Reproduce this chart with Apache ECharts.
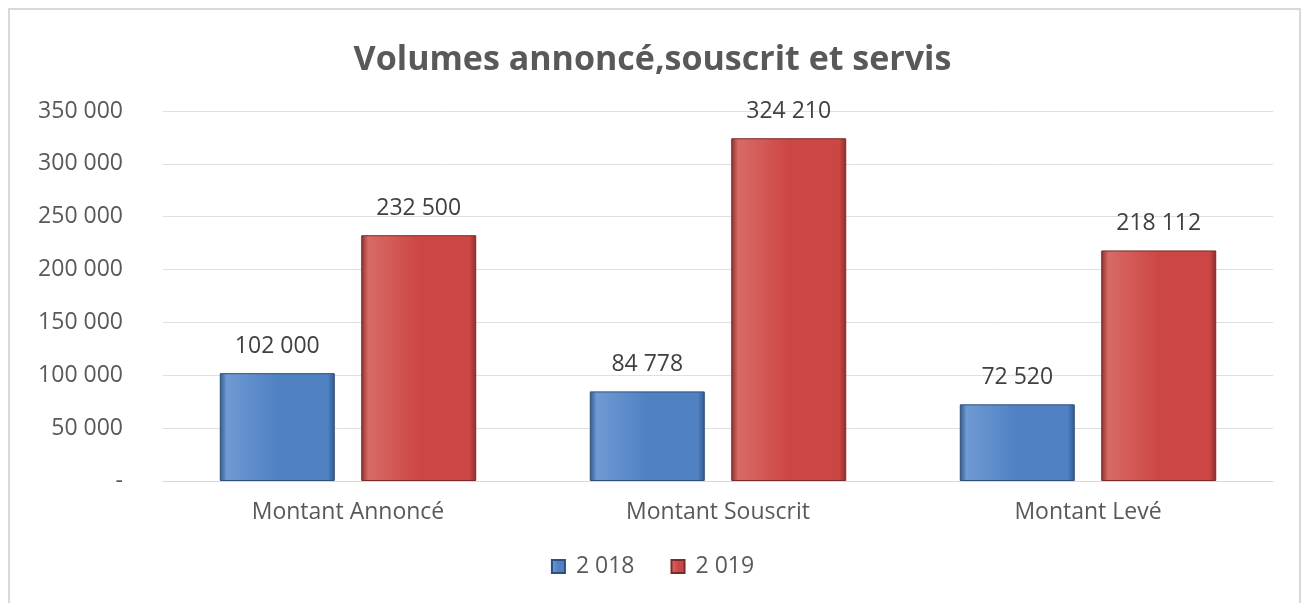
<!DOCTYPE html>
<html>
<head>
<meta charset="utf-8">
<script src="https://cdn.jsdelivr.net/npm/echarts@6/dist/echarts.min.js"></script>
<style>
  html, body { margin: 0; padding: 0; background: #fff; }
  .frame {
    position: absolute; left: 8px; top: 8px; width: 1293px; height: 640px;
    border: 2px solid #d9d9d9; box-sizing: border-box;
  }
  #chart { position: absolute; left: 0; top: 0; width: 1305px; height: 603px; }
</style>
</head>
<body>
<div class="frame"></div>
<div id="chart"></div>
<script>
var categories = ["Montant Annoncé", "Montant Souscrit", "Montant Levé"];
var data2018 = [102000, 84778, 72520];
var data2019 = [232500, 324210, 218112];
var seriesNames = ["2 018", "2 019"];

// 102000 -> "102 000", 0 -> "-"
function fmt(v) {
  if (v === 0) return "-";
  return String(Math.round(v)).replace(/\B(?=(\d{3})+(?!\d))/g, " ");
}

// faux bevel : bords sombres, centre plein
function bevel(light, mid, dark) {
  return new echarts.graphic.LinearGradient(0, 0, 1, 0, [
    { offset: 0, color: dark },
    { offset: 0.06, color: light },
    { offset: 0.5, color: mid },
    { offset: 0.94, color: mid },
    { offset: 1, color: dark },
  ]);
}

var chart = echarts.init(document.getElementById("chart"));
var labelCfg = {
  show: true,
  position: "top",
  distance: 15,
  color: "#404040",
  fontSize: 23,
  fontFamily: "Open Sans",
  formatter: function (p) { return fmt(p.value); },
};
var option = {
  animation: false,
  title: {
    text: "Volumes annoncé,souscrit et servis",
    left: "center",
    top: 38,
    textStyle: { color: "#595959", fontSize: 34, fontWeight: "bold", fontFamily: "Open Sans" },
  },
  legend: {
    bottom: 20,
    left: "center",
    itemWidth: 13,
    itemHeight: 13,
    itemGap: 36,
    icon: "rect",
    textStyle: { color: "#595959", fontSize: 23, fontFamily: "Open Sans", padding: [0, 0, 0, 6] },
    data: seriesNames,
  },
  grid: { left: 163, right: 32, top: 111, bottom: 122 },
  xAxis: {
    type: "category",
    data: categories,
    axisLine: { show: true, lineStyle: { color: "#d9d9d9", width: 1 } },
    axisTick: { show: false },
    axisLabel: { color: "#595959", fontSize: 23, fontFamily: "Open Sans", margin: 20 },
  },
  yAxis: {
    type: "value",
    min: 0,
    max: 350000,
    interval: 50000,
    axisLine: { show: false },
    axisTick: { show: false },
    splitLine: { lineStyle: { color: "#e0e0e0", width: 1 } },
    axisLabel: {
      color: "#595959", fontSize: 23, fontFamily: "Open Sans", margin: 40,
      formatter: fmt,
    },
  },
  series: [
    {
      name: seriesNames[0],
      type: "bar",
      data: data2018,
      barWidth: 115,
      barGap: "23%",
      itemStyle: {
        color: bevel("#6f9ad3", "#4f81c3", "#2f5a8f"),
        borderColor: "#2c4f7c",
        borderWidth: 1,
      },
      label: labelCfg,
    },
    {
      name: seriesNames[1],
      type: "bar",
      data: data2019,
      barWidth: 115,
      itemStyle: {
        color: bevel("#d86a66", "#cc4744", "#8e2e2c"),
        borderColor: "#7a2a28",
        borderWidth: 1,
      },
      label: labelCfg,
    },
  ],
};
chart.setOption(option);
window.addEventListener("resize", function () { chart.resize(); });
</script>
</body>
</html>
